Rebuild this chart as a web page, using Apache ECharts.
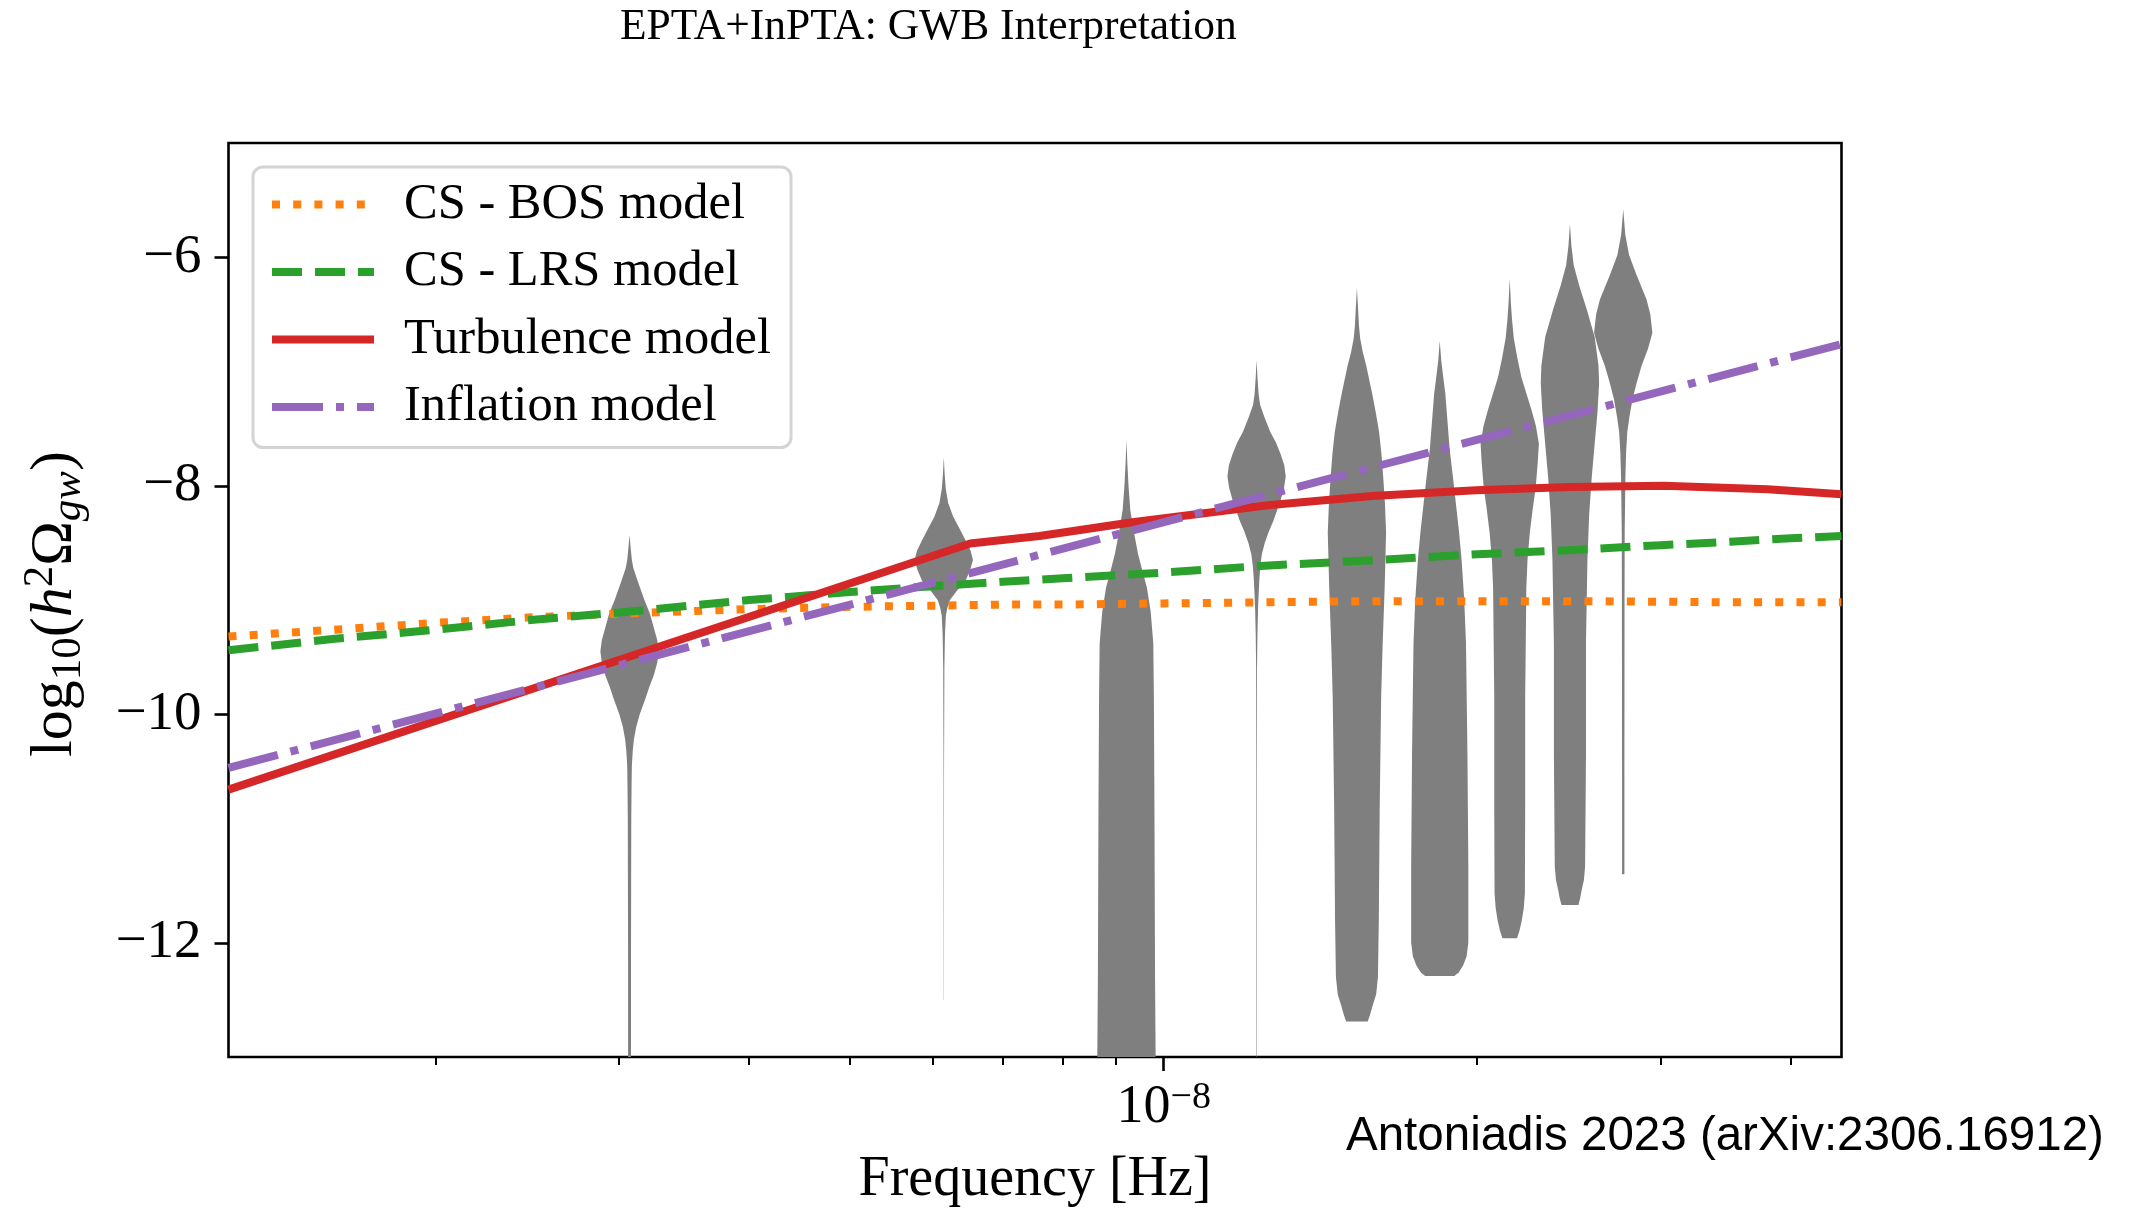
<!DOCTYPE html>
<html>
<head>
<meta charset="utf-8">
<title>EPTA+InPTA: GWB Interpretation</title>
<script src="https://cdn.jsdelivr.net/npm/echarts@6/dist/echarts.min.js"></script>
<style>
  html, body { margin: 0; padding: 0; background: #ffffff; }
  #chart { width: 2130px; height: 1210px; }
</style>
</head>
<body>
<div id="chart"></div>
<script>
// Frequency bins (Hz) of the free-spectrum posteriors
const binFreqs = [3.07e-9, 6.15e-9, 9.21e-9, 1.228e-8, 1.533e-8, 1.841e-8, 2.149e-8, 2.455e-8, 2.762e-8];

// Posterior outline of each bin: [log10(h^2 Omega_gw), relative density]
const bin1 = [[-8.43,0],[-8.55,0.04],[-8.65,0.08],[-8.72,0.13],[-8.85,0.3],[-9.0,0.51],[-9.12,0.7],[-9.24,0.83],[-9.35,0.95],[-9.45,1.0],[-9.55,0.95],[-9.66,0.83],[-9.76,0.68],[-9.86,0.55],[-10.0,0.35],[-10.11,0.23],[-10.22,0.15],[-10.32,0.11],[-10.45,0.08],[-10.63,0.07],[-10.9,0.06],[-11.5,0.055],[-12.2,0.05],[-13.0,0.05]];
const bin2 = [[-7.75,0],[-7.9,0.03],[-8.03,0.07],[-8.15,0.15],[-8.27,0.32],[-8.38,0.55],[-8.48,0.75],[-8.57,0.92],[-8.65,1.0],[-8.74,0.9],[-8.83,0.75],[-8.92,0.45],[-9.0,0.21],[-9.07,0.12],[-9.14,0.07],[-9.3,0.04],[-9.6,0.02],[-10.5,0.008],[-12.5,0.004]];
const bin3 = [[-7.6,0],[-7.8,0.03],[-8.0,0.07],[-8.21,0.13],[-8.4,0.25],[-8.6,0.4],[-8.75,0.55],[-8.89,0.7],[-9.1,0.83],[-9.38,0.92],[-9.86,0.94],[-10.84,0.96],[-12.3,0.98],[-13.0,1.0]];
const bin4 = [[-6.9,0],[-7.05,0.03],[-7.2,0.07],[-7.29,0.12],[-7.4,0.27],[-7.53,0.47],[-7.62,0.66],[-7.72,0.82],[-7.82,0.95],[-7.92,1.0],[-8.02,0.94],[-8.12,0.83],[-8.21,0.71],[-8.31,0.57],[-8.4,0.42],[-8.5,0.28],[-8.6,0.18],[-8.7,0.13],[-8.8,0.1],[-8.95,0.07],[-9.08,0.05],[-9.3,0.03],[-9.6,0.015],[-10.5,0.01],[-13.0,0.008]];
const bin5 = [[-6.27,0],[-6.45,0.04],[-6.6,0.07],[-6.71,0.11],[-6.83,0.2],[-6.95,0.32],[-7.19,0.52],[-7.35,0.64],[-7.53,0.76],[-7.72,0.84],[-7.92,0.9],[-8.15,0.96],[-8.41,1.0],[-8.9,0.95],[-9.4,0.88],[-9.86,0.83],[-10.84,0.78],[-11.81,0.75],[-12.3,0.72],[-12.45,0.66],[-12.54,0.55],[-12.63,0.45],[-12.69,0.37]];
const bin6 = [[-6.73,0],[-6.9,0.05],[-7.05,0.12],[-7.19,0.19],[-7.45,0.27],[-7.68,0.34],[-7.92,0.45],[-8.17,0.56],[-8.4,0.66],[-8.65,0.75],[-9.0,0.84],[-9.38,0.9],[-10.35,0.95],[-11.33,0.98],[-12.0,0.98],[-12.12,0.92],[-12.2,0.8],[-12.26,0.65],[-12.29,0.5]];
const bin7 = [[-6.19,0],[-6.4,0.04],[-6.55,0.08],[-6.71,0.14],[-6.88,0.26],[-7.05,0.4],[-7.2,0.58],[-7.34,0.75],[-7.48,0.9],[-7.63,1.0],[-7.8,0.96],[-8.02,0.89],[-8.2,0.79],[-8.41,0.69],[-8.65,0.61],[-8.89,0.57],[-9.86,0.53],[-10.84,0.53],[-11.57,0.52],[-11.7,0.48],[-11.81,0.41],[-11.9,0.33],[-11.96,0.25]];
const bin8 = [[-5.71,0],[-5.9,0.05],[-6.07,0.13],[-6.25,0.32],[-6.46,0.58],[-6.7,0.85],[-6.95,0.98],[-7.1,1.0],[-7.34,0.95],[-7.6,0.86],[-7.92,0.75],[-8.25,0.66],[-8.65,0.6],[-9.38,0.55],[-10.35,0.55],[-11.33,0.52],[-11.45,0.48],[-11.53,0.41],[-11.61,0.35],[-11.67,0.29]];
const bin9 = [[-5.58,0],[-5.8,0.07],[-5.98,0.2],[-6.15,0.45],[-6.37,0.8],[-6.5,0.93],[-6.66,1.0],[-6.8,0.85],[-6.95,0.63],[-7.1,0.46],[-7.24,0.32],[-7.4,0.21],[-7.53,0.14],[-7.7,0.1],[-7.92,0.075],[-8.41,0.05],[-9.0,0.045],[-10.5,0.04],[-11.4,0.04]];
const binProfiles = [bin1, bin2, bin3, bin4, bin5, bin6, bin7, bin8, bin9];

// Cosmic-string spectra sampled on a common frequency grid (Hz)
const modelFreqs = [1.265e-9, 1.6e-9, 2e-9, 2.5e-9, 3e-9, 4e-9, 5e-9, 6e-9, 7e-9, 8e-9, 1e-8, 1.25e-8, 1.6e-8, 2e-8, 2.5e-8, 3e-8, 3.5e-8, 4e-8, 4.475e-8];
const bosOmega = [-9.32, -9.26, -9.20, -9.15, -9.12, -9.08, -9.06, -9.05, -9.04, -9.04, -9.03, -9.02, -9.01, -9.01, -9.01, -9.015, -9.02, -9.02, -9.02];
const lrsOmega = [-9.44, -9.34, -9.26, -9.17, -9.11, -9.00, -8.93, -8.88, -8.84, -8.81, -8.76, -8.70, -8.65, -8.60, -8.56, -8.52, -8.49, -8.46, -8.44];

// Turbulence spectrum
const turbFreqs = [1.265e-9, 6.52e-9, 7.6e-9, 9.33e-9, 1.259e-8, 1.585e-8, 1.995e-8, 2.455e-8, 3.02e-8, 3.8e-8, 4.475e-8];
const turbOmega = [-10.66, -8.505, -8.44, -8.32, -8.17, -8.09, -8.04, -8.01, -8.00, -8.03, -8.075];

// Inflation power law
const inflFreqs = [1.265e-9, 4.475e-8];
const inflOmega = [-10.47, -6.76];

// Axes
const freqLimits = [1.265e-9, 4.475e-8];
const omegaLimits = [-13, -5];
const yTicks = [-12, -10, -8, -6];
const xMajorTicks = [1e-8];
const xMinorTicks = [2e-9, 3e-9, 4e-9, 5e-9, 6e-9, 7e-9, 8e-9, 9e-9, 2e-8, 3e-8, 4e-8];

const seriesNames = ['CS - BOS model', 'CS - LRS model', 'Turbulence model', 'Inflation model'];

const SERIF = '"Liberation Serif", "DejaVu Serif", serif';
const SANS = '"Liberation Sans", Arial, sans-serif';
const LW = 8;
const VIOLIN_HALF = 0.028; // half-width of the widest point, in decades of frequency

const STYLES = [
  { color: '#ff7f0e', type: [8, 13.2] },
  { color: '#2ca02c', type: [30, 13] },
  { color: '#d62728', type: 'solid' },
  { color: '#9467bd', type: [51, 13, 8, 13] }
];

const lg = Math.log10;
const pairs = (fs, ys) => fs.map((f, i) => [lg(f), ys[i]]);
const minusSign = v => (v < 0 ? '\u2212' : '') + Math.abs(v);

function renderViolin(params, api) {
  const cx = api.value(0);
  const prof = binProfiles[api.value(1)];
  const right = prof.map(p => api.coord([cx + p[1] * VIOLIN_HALF, p[0]]));
  const left = prof.slice().reverse().map(p => api.coord([cx - p[1] * VIOLIN_HALF, p[0]]));
  return {
    type: 'polygon',
    shape: { points: right.concat(left) },
    style: { fill: '#7f7f7f', stroke: null }
  };
}

function lineSeries(i, data) {
  return {
    type: 'line', name: seriesNames[i], data: data, symbol: 'none', z: 3,
    lineStyle: { color: STYLES[i].color, width: LW, type: STYLES[i].type, cap: 'butt' },
    itemStyle: { color: STYLES[i].color }
  };
}

const chart = echarts.init(document.getElementById('chart'), null, { renderer: 'canvas' });

chart.setOption({
  backgroundColor: '#ffffff',
  animation: false,
  title: {
    text: 'EPTA+InPTA: GWB Interpretation',
    left: 620, top: 6, padding: 0,
    textStyle: { fontFamily: SERIF, fontSize: 43.5, fontWeight: 'normal', color: '#000', lineHeight: 43 }
  },
  grid: {
    left: 228.5, top: 143, width: 1613, height: 914,
    show: true, borderColor: '#000', borderWidth: 2.6, backgroundColor: 'transparent',
    outerBoundsMode: 'none', containLabel: false
  },
  legend: {
    data: seriesNames.map((name, i) => ({
      name: name,
      itemStyle: { opacity: 0 },
      lineStyle: { color: STYLES[i].color, width: LW, type: STYLES[i].type, cap: 'butt', opacity: 1 }
    })),
    orient: 'vertical',
    left: 253, top: 167,
    padding: [12, 20, 15, 15],
    itemGap: 16.5, itemWidth: 102, itemHeight: 16,
    borderColor: '#d4d4d4', borderWidth: 3, borderRadius: 10,
    backgroundColor: 'rgba(255,255,255,0.8)',
    selectedMode: false,
    textStyle: { fontFamily: SERIF, fontSize: 50.5, color: '#000', lineHeight: 50, padding: [0, 0, 0, 25] }
  },
  xAxis: [
    {
      type: 'value', min: lg(freqLimits[0]), max: lg(freqLimits[1]),
      axisLine: { show: false }, splitLine: { show: false },
      axisTick: { show: true, length: 14, lineStyle: { width: 2.6, color: '#000' }, customValues: xMajorTicks.map(lg) },
      axisLabel: {
        customValues: xMajorTicks.map(lg), margin: 22, color: '#000',
        formatter: v => '{b|10}{s|' + minusSign(Math.round(v)) + '}',
        rich: {
          b: { fontFamily: SERIF, fontSize: 54, color: '#000' },
          s: { fontFamily: SERIF, fontSize: 38, color: '#000', padding: [0, 0, 20, 0] }
        }
      },
      name: 'Frequency [Hz]', nameLocation: 'middle', nameGap: 95,
      nameTextStyle: { fontFamily: SERIF, fontSize: 56, color: '#000', lineHeight: 56 }
    },
    {
      type: 'value', min: lg(freqLimits[0]), max: lg(freqLimits[1]), position: 'bottom',
      axisLine: { show: false }, splitLine: { show: false }, axisLabel: { show: false },
      axisTick: { show: true, length: 8, lineStyle: { width: 2, color: '#000' }, customValues: xMinorTicks.map(lg) }
    }
  ],
  yAxis: {
    type: 'value', min: omegaLimits[0], max: omegaLimits[1],
    axisLine: { show: false }, splitLine: { show: false },
    axisTick: { show: true, length: 14, lineStyle: { width: 2.6, color: '#000' }, customValues: yTicks },
    axisLabel: { customValues: yTicks, formatter: minusSign, margin: 27, fontFamily: SERIF, fontSize: 55, color: '#000' }
  },
  graphic: [
    {
      type: 'text', x: 55, y: 604, rotation: Math.PI / 2,
      style: {
        text: '{n|log}{sub|10}{n|(}{i|h}{sup|2}{n|\u03A9}{subi|gw}{n|)}',
        align: 'center', verticalAlign: 'middle',
        rich: {
          n: { fontFamily: SERIF, fontSize: 60, fill: '#000' },
          i: { fontFamily: SERIF, fontSize: 60, fontStyle: 'italic', fill: '#000' },
          sub: { fontFamily: SERIF, fontSize: 43, fill: '#000', padding: [28, 0, 0, 0] },
          subi: { fontFamily: SERIF, fontSize: 43, fontStyle: 'italic', fill: '#000', padding: [28, 0, 0, 0] },
          sup: { fontFamily: SERIF, fontSize: 43, fill: '#000', padding: [0, 0, 28, 0] }
        }
      }
    },
    {
      type: 'text', x: 1346, y: 1137,
      style: { text: 'Antoniadis 2023 (arXiv:2306.16912)', fontFamily: SANS, fontSize: 47.5, fill: '#000', align: 'left', verticalAlign: 'middle' }
    }
  ],
  series: [
    {
      type: 'custom', name: 'bins', clip: true, z: 1,
      renderItem: renderViolin,
      data: binFreqs.map((f, i) => [lg(f), i])
    },
    lineSeries(0, pairs(modelFreqs, bosOmega)),
    lineSeries(1, pairs(modelFreqs, lrsOmega)),
    lineSeries(2, pairs(turbFreqs, turbOmega)),
    lineSeries(3, pairs(inflFreqs, inflOmega))
  ]
});
</script>
</body>
</html>
